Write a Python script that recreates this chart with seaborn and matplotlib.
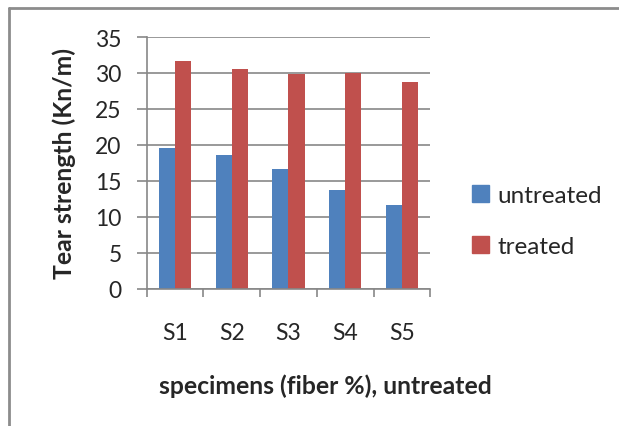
import matplotlib
matplotlib.use("Agg")
import matplotlib.pyplot as plt
import seaborn as sns
import pandas as pd
from matplotlib.lines import Line2D
from matplotlib.patches import Rectangle

categories = ["S1", "S2", "S3", "S4", "S5"]
untreated = [19.6, 18.6, 16.6, 13.7, 11.7]
treated = [31.7, 30.6, 29.8, 30.0, 28.7]
series_names = ["untreated", "treated"]
colors = ["#4F81BD", "#C0504D"]
yticks = [0, 5, 10, 15, 20, 25, 30, 35]

df = pd.DataFrame({
    "specimen": categories * 2,
    "value": untreated + treated,
    "series": [series_names[0]] * len(categories) + [series_names[1]] * len(categories),
})

sns.set_theme(style="white")
plt.rcParams['font.family'] = ['Lato', 'DejaVu Sans']

FS = 16.5
LFS = 17.8
fig = plt.figure(figsize=(6.19, 4.27), dpi=100)
ax = fig.add_axes([0.237, 0.321, 0.458, 0.59])

sns.barplot(data=df, x="specimen", y="value", hue="series", palette=colors,
            width=0.57, ax=ax, legend=False, saturation=1, edgecolor="none")

gc = "#878787"
ax.set_ylim(0, 35)
ax.set_xlim(-0.5, 4.5)
ax.set_yticks(yticks)
ax.set_yticklabels([str(t) for t in yticks], fontsize=FS)
ax.yaxis.grid(True, color=gc, linewidth=1.2)
ax.set_axisbelow(True)
for s in ["top", "right"]:
    ax.spines[s].set_visible(False)
for s in ["left", "bottom"]:
    ax.spines[s].set_color(gc)
    ax.spines[s].set_linewidth(1.2)

ax.tick_params(axis="y", left=True, length=7, color=gc, width=1.2, pad=11)
ax.set_xticks(range(len(categories)))
ax.set_xticklabels(categories, fontsize=FS)
ax.tick_params(axis="x", which="major", bottom=False, length=0, pad=24)
ax.set_xticks([i - 0.5 for i in range(len(categories) + 1)], minor=True)
ax.tick_params(axis="x", which="minor", bottom=True, length=6, color=gc, width=1.2)

ax.set_xlabel("specimens (fiber %), untreated", fontsize=LFS, fontweight="bold")
ax.xaxis.set_label_coords(0.63, -0.335)
ax.set_ylabel("Tear strength (Kn/m)", fontsize=LFS, fontweight="bold", labelpad=14)

handles = [Rectangle((0, 0), 1, 1, color=c) for c in colors]
fig.legend(handles, series_names, loc="center left", bbox_to_anchor=(0.763, 0.48),
           frameon=False, fontsize=17.5, handlelength=0.7, handleheight=0.7,
           handletextpad=0.35, labelspacing=1.2, borderpad=0, borderaxespad=0)

# outer border (left and top)
fig.add_artist(Line2D([0.0145, 0.0145], [0, 0.979], transform=fig.transFigure, color="#8c8c8c", linewidth=2))
fig.add_artist(Line2D([0.0145, 1.0], [0.979, 0.979], transform=fig.transFigure, color="#8c8c8c", linewidth=2))

fig.savefig("out.png", dpi=100)
